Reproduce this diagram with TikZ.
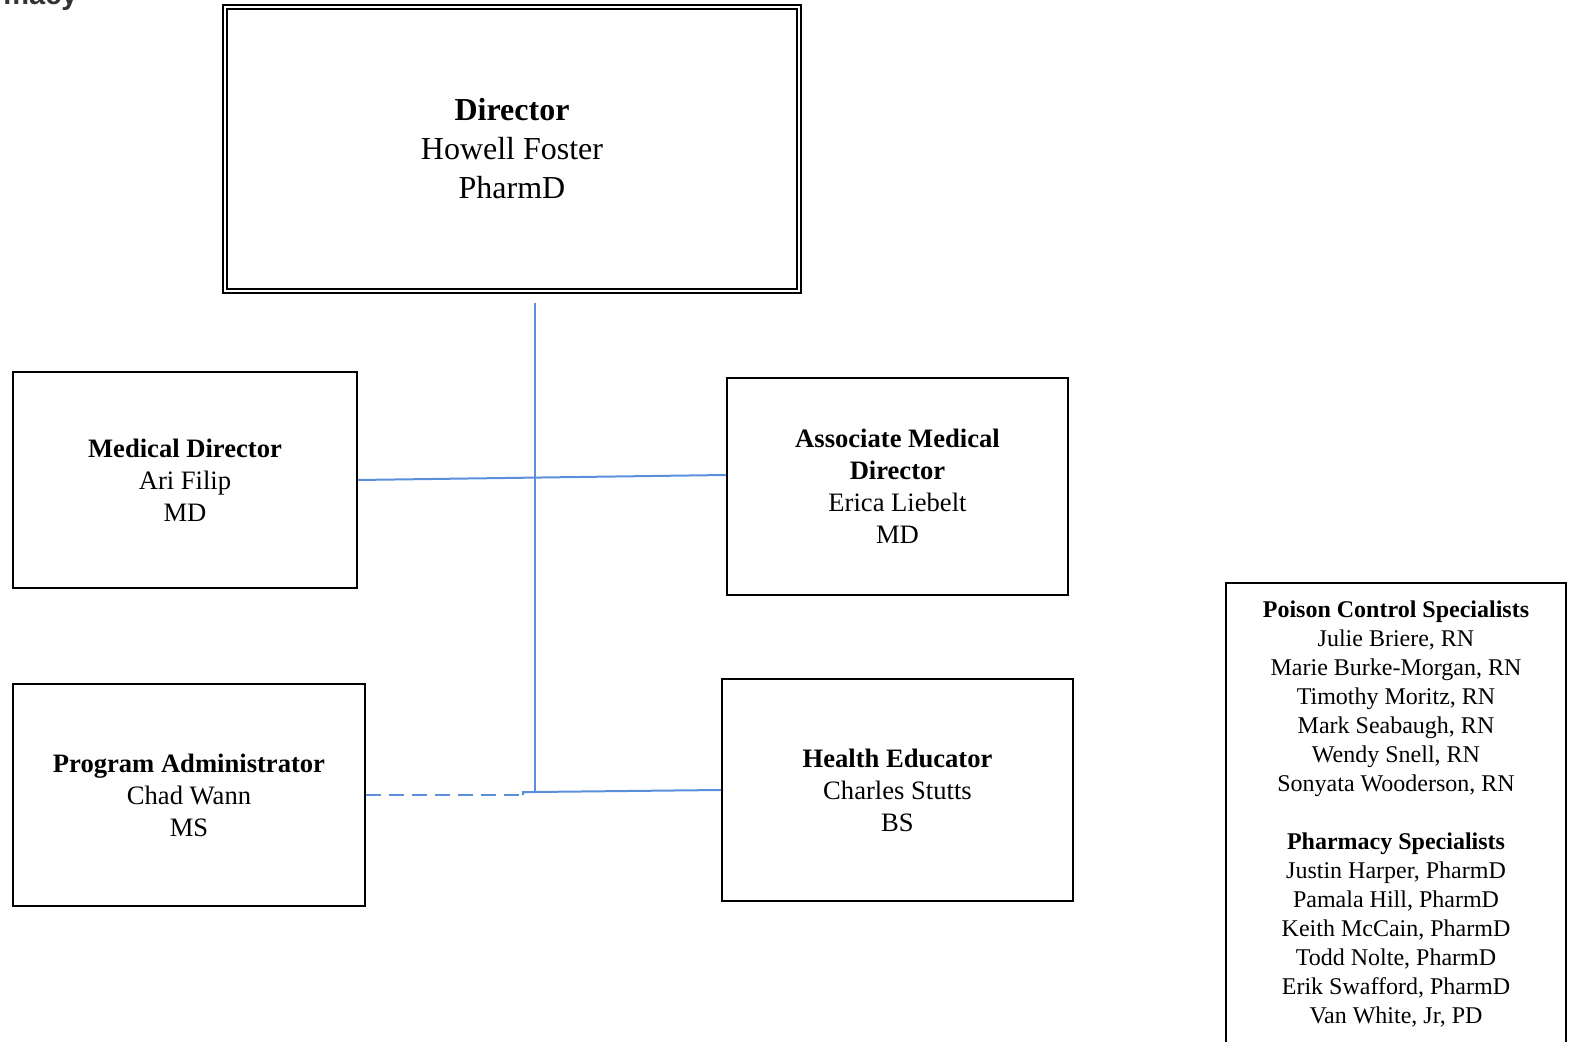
\documentclass[tikz,border=0pt]{standalone}
\usepackage{fontspec}
\setmainfont{Liberation Serif}
\newfontfamily\headfont{Liberation Sans}
\usetikzlibrary{positioning}
\definecolor{ink}{HTML}{000000}
\definecolor{linkblue}{HTML}{5B8FDB}
\definecolor{headgray}{HTML}{333333}
\tikzset{
  box/.style={draw=ink, line width=1pt, fill=white, align=center, inner sep=4pt, font=\fontsize{13.3}{16}\selectfont},
  topbox/.style={box, double, line width=0.8pt, double distance=1.2pt, font=\fontsize{16}{19.5}\selectfont},
  listbox/.style={box, font=\fontsize{12}{14.5}\selectfont},
  heading/.style={font=\headfont\bfseries\fontsize{14.5}{17}\selectfont, text=headgray, inner sep=0pt},
  link/.style={draw=linkblue, line width=1pt},
  dashlink/.style={link, dash pattern=on 7.5pt off 4pt}
}

\begin{document}
\begin{tikzpicture}[x=0.5pt, y=-0.5pt]
\useasboundingbox (0,0) rectangle (1569,1042);
\node[heading, anchor=base east] (hdr) at (78,4.5) {Pharmacy};
\node[topbox, minimum width=286.75pt, minimum height=141.75pt] (dir) at (512,149) {\textbf{Director}\\Howell Foster\\PharmD};
\node[box, minimum width=172pt, minimum height=108pt] (md) at (185,480) {\textbf{Medical Director}\\Ari Filip\\MD};
\node[box, minimum width=170.5pt, minimum height=108.5pt] (amd) at (897.5,486.5) {\textbf{Associate Medical}\\\textbf{Director}\\Erica Liebelt\\MD};
\node[box, minimum width=176pt, minimum height=111pt] (pa) at (189,795) {\textbf{Program Administrator}\\Chad Wann\\MS};
\node[box, minimum width=175.5pt, minimum height=111pt] (he) at (897.5,790) {\textbf{Health Educator}\\Charles Stutts\\BS};
\node[listbox, minimum width=170pt, minimum height=231.5pt] (spec) at (1396,814.5) {\textbf{Poison Control Specialists}\\Julie Briere, RN\\Marie Burke-Morgan, RN\\Timothy Moritz, RN\\Mark Seabaugh, RN\\Wendy Snell, RN\\Sonyata Wooderson, RN\\[14.5pt]\textbf{Pharmacy Specialists}\\Justin Harper, PharmD\\Pamala Hill, PharmD\\Keith McCain, PharmD\\Todd Nolte, PharmD\\Erik Swafford, PharmD\\Van White, Jr, PD};
% connectors
\coordinate (jt) at (535,303);
\coordinate (jb) at (535,792);
\coordinate (jk) at (523,792);
\coordinate (jd) at (523,795);
\draw[link] (jt) -- (jb);
\draw[link] (md.east) -- ([yshift=5.75pt]amd.west);
\draw[link] (he.west) -- (jb) -- (jk) -- (jd);
\draw[dashlink] (pa.east) -- (jd);
\end{tikzpicture}
\end{document}
